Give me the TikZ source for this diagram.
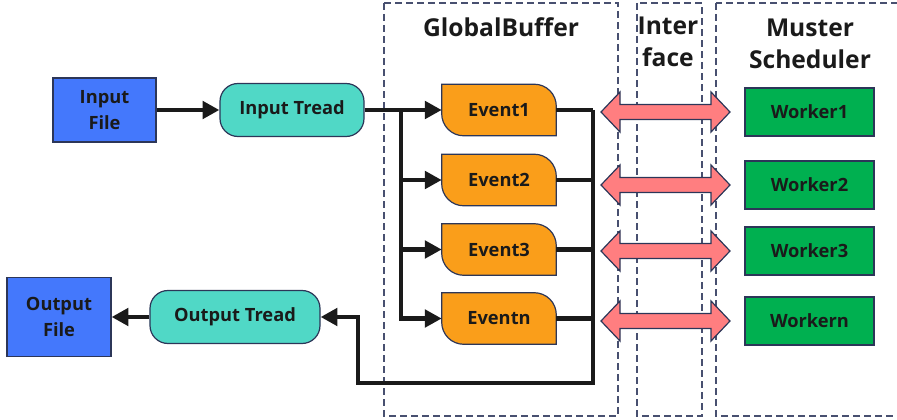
\documentclass[tikz,border=0pt]{standalone}
\usepackage{fontspec}
\setmainfont{Open Sans}
\usetikzlibrary{calc,arrows.meta,backgrounds}
\definecolor{fileblue}{RGB}{68,120,252}
\definecolor{treadteal}{RGB}{80,216,198}
\definecolor{eventorange}{RGB}{250,158,26}
\definecolor{workergreen}{RGB}{0,176,80}
\definecolor{linkpink}{RGB}{255,126,128}
\definecolor{edgenavy}{RGB}{44,54,88}
\definecolor{dashnavy}{RGB}{72,80,112}
\definecolor{textdark}{RGB}{26,26,26}
\def\eventshape(#1){\draw[line width=0.3mm, draw=edgenavy, fill=eventorange] (#1.north west) -- ([xshift=-5.5mm]#1.north east) arc (90:0:5.5mm) -- (#1.south east) -- ([xshift=5.5mm]#1.south west) arc (270:180:5.5mm) -- cycle;}
\def\fatarrow(#1){\draw[line width=0.3mm, draw=edgenavy, fill=linkpink] ($(#1)+(-64.5,0)$) -- ++(19,-20) -- ++(0,12.5) -- ++(91,0) -- ++(0,-12.5) -- ++(19,20) -- ++(-19,20) -- ++(0,-12.5) -- ++(-91,0) -- ++(0,12.5) -- cycle;}

\begin{document}
\begin{tikzpicture}[x=0.25mm, y=-0.25mm,
		every node/.style={font=\fontsize{13}{19}\selectfont\bfseries, text=textdark, align=center},
		title/.style={font=\fontsize{17.5}{23}\selectfont\bfseries},
		filebox/.style={draw=edgenavy, line width=0.3mm, fill=fileblue},
		tread/.style={draw=edgenavy, line width=0.3mm, fill=treadteal, rounded corners=4.5mm, minimum height=13.25mm},
		eventbox/.style={minimum width=28.5mm, minimum height=12.75mm},
		worker/.style={draw=edgenavy, line width=0.3mm, fill=workergreen, minimum width=32.25mm, minimum height=12mm},
		region/.style={draw=dashnavy, line width=0.3mm, dash pattern=on 1.75mm off 1mm},
		flow/.style={line width=1.05mm, color=textdark, -{Triangle[length=4.2mm, width=4.3mm]}},
		bus/.style={line width=1.05mm, color=textdark}]
			%%%%% START %%%%%
			
			\useasboundingbox (0,0) rectangle (897,420);
			
			\draw[region] (384, 3) rectangle (618, 416);
			\draw[region] (637, 3) rectangle (702, 416);
			\draw[region] (716, 3) rectangle (900, 416);
			
			\node[title] (gbtitle) at (501, 27) {GlobalBuffer};
			\node[title] (iftitle) at (668, 42) {Inter\\face};
			\node[title] (mstitle) at (810, 44) {Muster\\Scheduler};
			
			\node[filebox, minimum width=25.75mm, minimum height=16mm] (infile) at (104.5, 110) {Input\\File};
			\node[tread, minimum width=36mm] (intread) at (292, 110) {Input Tread};
			\node[tread, minimum width=42.5mm] (outtread) at (235, 317) {Output Tread};
			\node[filebox, minimum width=26mm, minimum height=19.75mm] (outfile) at (59, 317) {Output\\File};
			
			\node[eventbox] (ev1) at (499, 110) {};
			\node[eventbox] (ev2) at (499, 180) {};
			\node[eventbox] (ev3) at (499, 249.5) {};
			\node[eventbox] (evn) at (499, 318.5) {};
			\eventshape(ev1)
			\eventshape(ev2)
			\eventshape(ev3)
			\eventshape(evn)
			\node at (ev1) {Event1};
			\node at (ev2) {Event2};
			\node at (ev3) {Event3};
			\node at (evn) {Eventn};
			
			\node[worker] (wk1) at (809.5, 112) {Worker1};
			\node[worker] (wk2) at (809.5, 185) {Worker2};
			\node[worker] (wk3) at (809.5, 251) {Worker3};
			\node[worker] (wkn) at (809.5, 321) {Workern};
			
			\fatarrow(665.5, 112)
			\fatarrow(665.5, 185)
			\fatarrow(665.5, 251)
			\fatarrow(665.5, 321)
			
			\coordinate (fork) at (401, 110);
			\coordinate (merge) at (593, 110);
			\coordinate (back) at (358, 383);
			
			\draw[flow] (infile.east) -- (intread.west);
			\draw[flow] (intread.east) -- (ev1.west);
			\draw[flow] (fork) |- (evn.west);
			\draw[flow] (fork |- ev2.west) -- (ev2.west);
			\draw[flow] (fork |- ev3.west) -- (ev3.west);
			
			\draw[bus] (ev1.east) -- (merge);
			\draw[bus] (ev2.east) -- (ev2.east -| merge);
			\draw[bus] (ev3.east) -- (ev3.east -| merge);
			\draw[bus] (evn.east) -- (evn.east -| merge);
			\draw[flow] (merge) |- (back) |- (outtread.east);
			\draw[flow] (outtread.west) -- (outfile.east);
			
			%%%%% END %%%%%
\end{tikzpicture}
\end{document}
